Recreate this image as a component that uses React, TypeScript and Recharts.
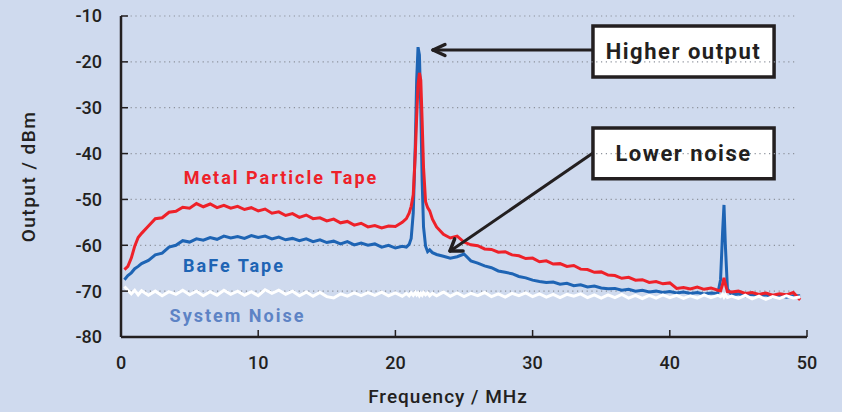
import React from "react";
import {
  LineChart,
  Line,
  XAxis,
  YAxis,
  ReferenceLine,
  ReferenceArea,
  ReferenceDot,
} from "recharts";

// Frequency (MHz) sample points
const freq = [
  0.25, 0.5, 0.75, 1.0, 1.25, 1.5, 2.0, 2.5, 3.0, 3.5, 4.0, 4.5, 5.0, 5.5, 6.0, 6.5, 7.0, 7.5, 8.0, 8.5,
  9.0, 9.5, 10.0, 10.5, 11.0, 11.5, 12.0, 12.5, 13.0, 13.5, 14.0, 14.5, 15.0, 15.5, 16.0, 16.5, 17.0, 17.5,
  18.0, 18.5, 19.0, 19.5, 20.0, 20.5,
  20.8, 21.0, 21.15, 21.3, 21.45, 21.55, 21.65, 21.75, 21.85, 21.95, 22.05, 22.2, 22.35, 22.5, 22.7,
  23.0, 23.5, 24.0, 24.5, 25.0, 25.5, 26.0, 26.5, 27.0, 27.5, 28.0, 28.5, 29.0, 29.5, 30.0, 30.5, 31.0,
  31.5, 32.0, 32.5, 33.0, 33.5, 34.0, 34.5, 35.0, 35.5, 36.0, 36.5, 37.0, 37.5, 38.0, 38.5, 39.0, 39.5,
  40.0, 40.5, 41.0, 41.5, 42.0, 42.5, 43.0, 43.5,
  43.7, 43.85, 43.95, 44.05, 44.2,
  44.5, 45.0, 45.5, 46.0, 46.5, 47.0, 47.5, 48.0, 48.5, 49.0, 49.5,
];

// Metal Particle Tape output (dBm)
const metalParticle = [
  -65.3, -64.6, -62.8, -60.2, -58.3, -57.4, -55.8, -54.2, -54.0, -52.8, -52.6, -51.7, -51.9, -50.9, -51.6,
  -51.0, -51.8, -51.3, -51.9, -51.5, -52.2, -51.8, -52.5, -52.1, -53.0, -52.7, -53.5, -53.1, -53.9, -53.4,
  -54.2, -54.0, -54.7, -54.3, -55.1, -54.8, -55.6, -55.2, -56.0, -55.7, -56.2, -55.8, -55.9, -55.0,
  -54.2, -53.0, -51.5, -49.0, -40.0, -32.0, -25.0, -22.4, -24.0, -33.0, -43.0, -50.5, -51.8, -52.5, -54.3,
  -56.0, -57.6, -58.4, -58.0, -59.3, -59.9, -60.1, -60.8, -60.9, -61.5, -61.4, -62.1, -62.3, -62.9, -62.8,
  -63.6, -63.4, -64.1, -64.0, -64.6, -64.4, -65.2, -65.3, -65.9, -65.8, -66.5, -66.6, -67.2, -67.0, -67.6,
  -67.5, -68.1, -67.9, -68.4, -68.2, -69.4, -69.2, -69.5, -69.1, -69.6, -69.3, -69.8,
  -69.9, -68.5, -67.1, -68.5, -70.1,
  -70.2, -70.0, -70.5, -70.3, -70.7, -70.4, -70.9, -70.6, -70.8, -70.3, -71.9,
];

// BaFe Tape output (dBm)
const bafeTape = [
  -67.5, -66.6, -66.0, -65.1, -64.6, -64.0, -63.3, -62.1, -61.7, -60.4, -60.0, -59.0, -59.3, -58.6, -58.9,
  -58.3, -58.7, -58.0, -58.4, -58.1, -58.5, -57.9, -58.3, -58.0, -58.6, -58.2, -58.8, -58.5, -59.0, -58.6,
  -59.2, -58.8, -59.4, -59.1, -59.7, -59.2, -59.9, -59.5, -60.0, -59.7, -60.4, -60.0, -60.6, -60.2,
  -60.4, -59.8, -58.5, -53.0, -38.0, -24.0, -16.8, -18.5, -30.0, -46.0, -56.0, -60.2, -61.4, -61.0, -61.6,
  -62.0, -62.4, -62.8, -62.5, -61.9, -63.4, -63.9, -64.5, -64.9, -65.6, -65.9, -66.2, -66.8, -67.1, -67.6,
  -67.9, -68.1, -68.0, -68.5, -68.3, -68.8, -68.6, -69.1, -68.9, -69.3, -69.5, -69.4, -69.8, -69.6, -70.0,
  -69.8, -70.2, -70.0, -70.3, -70.1, -70.4, -70.2, -70.5, -70.3, -70.6, -70.4, -70.5,
  -67.5, -57.0, -51.2, -60.0, -69.5,
  -70.8, -70.6, -71.0, -70.7, -71.1, -70.8, -71.2, -70.9, -71.3, -71.0, -71.0,
];

// System noise (dBm)
const systemNoise = [
  -69.0, -69.8, -70.6, -69.8, -70.8, -69.9, -70.9, -70.0, -71.0, -70.1, -70.7, -69.8, -70.8, -70.0, -71.0,
  -70.1, -70.9, -69.8, -70.7, -70.0, -70.9, -70.1, -71.0, -69.7, -70.5, -69.8, -70.7, -70.0, -71.0, -70.2,
  -71.1, -70.3, -71.2, -71.5, -70.6, -71.1, -70.4, -71.0, -70.3, -70.9, -70.2, -71.0, -70.4, -71.1,
  -70.5, -71.0, -70.4, -70.9, -70.3, -70.8, -70.4, -71.0, -70.5, -70.9, -70.3, -70.8, -70.4, -71.0, -70.5,
  -71.0, -70.2, -71.1, -70.4, -71.2, -70.5, -71.0, -70.3, -71.2, -70.6, -71.3, -70.5, -71.0, -70.4, -71.2,
  -70.6, -71.3, -70.7, -71.4, -70.7, -71.1, -70.6, -71.4, -70.8, -71.5, -70.8, -71.4, -70.7, -71.5, -70.9,
  -71.6, -70.9, -71.5, -70.8, -71.4, -70.9, -71.6, -71.0, -71.5, -70.8, -71.4, -70.9,
  -71.2, -70.7, -71.3, -70.8, -71.4,
  -71.1, -71.6, -70.9, -71.7, -71.1, -71.8, -71.2, -71.6, -71.0, -71.5, -71.3,
];

const xTicks = [0, 10, 20, 30, 40, 50];
const yTicks = [-80, -70, -60, -50, -40, -30, -20, -10];
const gridValues = [-70, -60, -50, -40, -30, -20, -10];

const INK = "#231f20";
const BG = "#cfdaee";

const data = freq.map((f, i) => ({
  f,
  metal: metalParticle[i],
  bafe: bafeTape[i],
  noise: systemNoise[i],
}));

export default function App() {
  return (
    <div
      style={{
        position: "absolute",
        left: 0,
        top: 0,
        width: 842,
        height: 412,
        background: BG,
        fontFamily: "Roboto, 'DejaVu Sans', sans-serif",
      }}
    >
      <LineChart
        width={842}
        height={412}
        data={data}
        margin={{ top: 16, right: 35, bottom: 0, left: 0 }}
      >
        {gridValues.map((v) => (
          <ReferenceLine
            key={v}
            segment={[
              { x: 0, y: v },
              { x: 49.1, y: v },
            ]}
            stroke="#8d929c"
            strokeWidth={1.2}
            strokeDasharray="1.2 3.6"
          />
        ))}
        <XAxis
          dataKey="f"
          type="number"
          domain={[0, 50]}
          ticks={xTicks}
          height={75}
          axisLine={{ stroke: INK, strokeWidth: 2.5 }}
          tickLine={{ stroke: INK, strokeWidth: 1.5 }}
          tickSize={-7}
          tickMargin={26}
          tick={{ fill: INK, fontSize: 18, fontWeight: 500 }}
          label={{
            value: "Frequency / MHz",
            position: "insideBottom",
            offset: 9,
            dx: -16,
            fill: INK,
            fontSize: 19,
            fontWeight: 500,
            letterSpacing: 1,
          }}
        />
        <YAxis
          type="number"
          domain={[-80, -10]}
          ticks={yTicks}
          width={121}
          axisLine={{ stroke: INK, strokeWidth: 2.5 }}
          tickLine={{ stroke: INK, strokeWidth: 1.5 }}
          tickSize={-7}
          tickMargin={26}
          tick={{ fill: INK, fontSize: 18, fontWeight: 500 }}
          label={{
            value: "Output / dBm",
            angle: -90,
            position: "center",
            dx: -32,
            fill: INK,
            fontSize: 19,
            fontWeight: 500,
            letterSpacing: 1.5,
          }}
        />
        <Line
          dataKey="bafe"
          stroke="#1e64b4"
          strokeWidth={3}
          dot={false}
          isAnimationActive={false}
        />
        <Line
          dataKey="metal"
          stroke="#ee2129"
          strokeWidth={3}
          dot={false}
          isAnimationActive={false}
        />
        <Line
          dataKey="noise"
          stroke="#ffffff"
          strokeWidth={3}
          dot={false}
          isAnimationActive={false}
        />

        <ReferenceDot
          x={11.66}
          y={-45.3}
          r={0}
          fill="none"
          stroke="none"
          label={{
            value: "Metal Particle Tape",
            position: "center",
            fill: "#ee2129",
            fontSize: 18,
            fontWeight: 700,
            letterSpacing: 2,
          }}
        />
        <ReferenceDot
          x={8.24}
          y={-64.5}
          r={0}
          fill="none"
          stroke="none"
          label={{
            value: "BaFe Tape",
            position: "center",
            fill: "#1e64b4",
            fontSize: 18,
            fontWeight: 700,
            letterSpacing: 2,
          }}
        />
        <ReferenceDot
          x={8.49}
          y={-75.3}
          r={0}
          fill="none"
          stroke="none"
          label={{
            value: "System Noise",
            position: "center",
            fill: "#5d83c5",
            fontSize: 18,
            fontWeight: 700,
            letterSpacing: 2,
          }}
        />

        {/* Higher output annotation */}
        <ReferenceLine
          segment={[
            { x: 34.4, y: -17.41 },
            { x: 22.8, y: -17.41 },
          ]}
          stroke={INK}
          strokeWidth={3}
        />
        <ReferenceLine
          segment={[
            { x: 22.74, y: -17.41 },
            { x: 23.61, y: -16.21 },
          ]}
          stroke={INK}
          strokeWidth={3.5}
          strokeLinecap="round"
        />
        <ReferenceLine
          segment={[
            { x: 22.74, y: -17.41 },
            { x: 23.61, y: -18.61 },
          ]}
          stroke={INK}
          strokeWidth={3.5}
          strokeLinecap="round"
        />
        <ReferenceArea
          x1={34.4}
          x2={47.6}
          y1={-12.2}
          y2={-23.3}
          fill="#ffffff"
          fillOpacity={1}
          stroke={INK}
          strokeWidth={3.5}
          label={{
            value: "Higher output",
            position: "center",
            fill: INK,
            fontSize: 22,
            fontWeight: 700,
            letterSpacing: 1.5,
          }}
        />

        {/* Lower noise annotation */}
        <ReferenceLine
          segment={[
            { x: 34.4, y: -39.87 },
            { x: 24.05, y: -61.14 },
          ]}
          stroke={INK}
          strokeWidth={3}
        />
        <ReferenceLine
          segment={[
            { x: 23.98, y: -61.24 },
            { x: 24.93, y: -61.24 },
          ]}
          stroke={INK}
          strokeWidth={3.5}
          strokeLinecap="round"
        />
        <ReferenceLine
          segment={[
            { x: 23.98, y: -61.24 },
            { x: 24.32, y: -58.58 },
          ]}
          stroke={INK}
          strokeWidth={3.5}
          strokeLinecap="round"
        />
        <ReferenceArea
          x1={34.4}
          x2={47.6}
          y1={-34.4}
          y2={-45.5}
          fill="#ffffff"
          fillOpacity={1}
          stroke={INK}
          strokeWidth={3.5}
          label={{
            value: "Lower noise",
            position: "center",
            fill: INK,
            fontSize: 22,
            fontWeight: 700,
            letterSpacing: 1.5,
          }}
        />
      </LineChart>
    </div>
  );
}
